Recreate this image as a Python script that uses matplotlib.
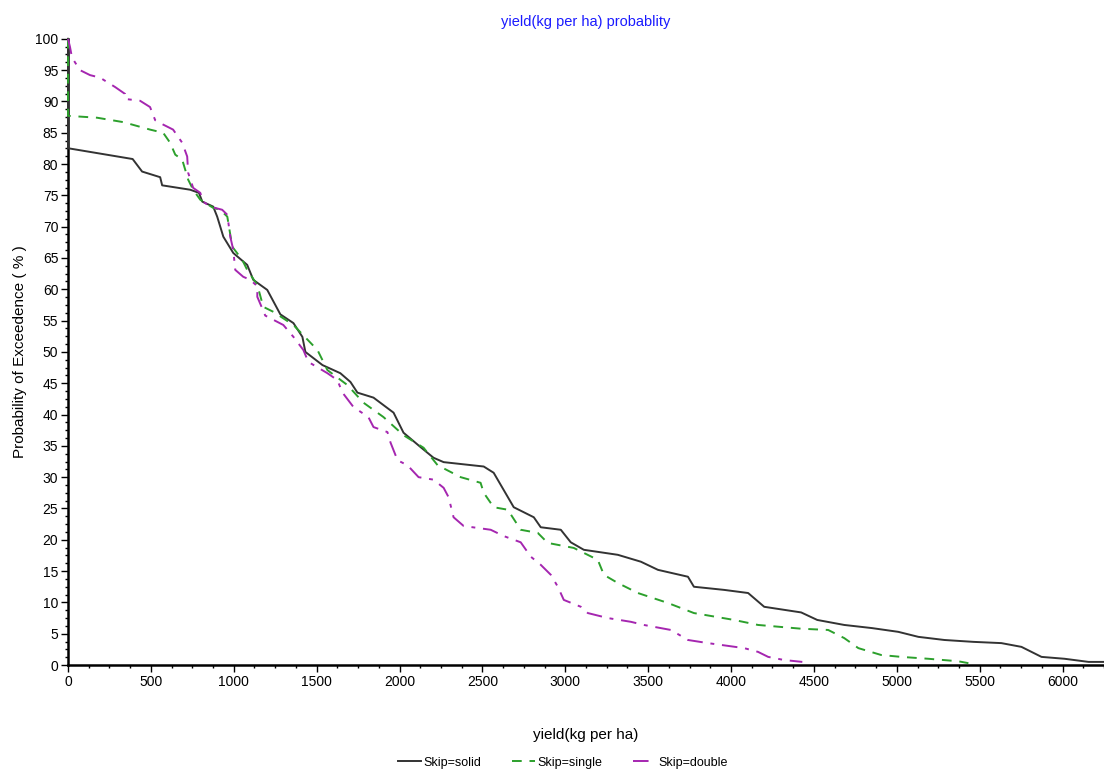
import matplotlib
matplotlib.use('Agg')
import matplotlib.pyplot as plt
from matplotlib.ticker import MultipleLocator, AutoMinorLocator

plt.rcParams['font.family'] = ['Liberation Sans', 'DejaVu Sans']

# yield (kg per ha) vs probability of exceedence (%)
solid_x = [0, 0, 6, 390, 447, 556, 568, 737, 790, 810, 876, 900, 937, 997, 1081, 1118,
           1202, 1281, 1360, 1414, 1432, 1535, 1643, 1704, 1746, 1843, 1964, 2024, 2127,
           2205, 2266, 2508, 2568, 2689, 2810, 2852, 2973, 3033, 3112, 3317, 3456, 3559,
           3740, 3776, 3958, 4103, 4200, 4423, 4520, 4683, 4850, 5009, 5130, 5287, 5462,
           5631, 5752, 5873, 6012, 6157, 6260]
solid_y = [100, 82.5, 82.5, 80.8, 78.8, 77.9, 76.6, 75.9, 75.4, 74, 73.2, 71.6, 68.4, 65.8,
           63.9, 61.5, 59.9, 56.0, 54.6, 52.4, 50, 47.9, 46.6, 45.2, 43.5, 42.7, 40.3, 37.1,
           34.8, 33.1, 32.4, 31.7, 30.7, 25.2, 23.6, 22, 21.6, 19.6, 18.4, 17.6, 16.5, 15.2,
           14.1, 12.5, 12, 11.5, 9.3, 8.4, 7.2, 6.4, 5.9, 5.3, 4.5, 4, 3.7, 3.5, 2.9, 1.3,
           1.0, 0.5, 0.5]

single_x = [0, 0, 175, 332, 387, 495, 574, 616, 647, 689, 725, 755, 798, 876, 918, 961, 991,
            1051, 1081, 1142, 1178, 1239, 1360, 1505, 1565, 1686, 1782, 1903, 2024, 2145,
            2230, 2369, 2489, 2508, 2568, 2653, 2731, 2834, 2894, 3051, 3196, 3233, 3317,
            3438, 3620, 3776, 4018, 4163, 4423, 4586, 4683, 4768, 4906, 5027, 5190, 5371,
            5432]
single_y = [100, 87.7, 87.4, 86.7, 86.3, 85.5, 85, 83.4, 81.5, 80.7, 77.5, 75.9, 74.3, 73,
            72.7, 71.6, 66.8, 64.7, 63.1, 60.7, 57.2, 56.4, 54.3, 50.3, 47.1, 44.7, 41.9,
            39.6, 36.7, 34.7, 31.9, 30, 29.1, 27.5, 25.2, 24.8, 21.6, 21.1, 19.5, 18.7, 16.8,
            14.4, 13.1, 11.5, 9.9, 8.3, 7.2, 6.4, 5.8, 5.6, 4.3, 2.7, 1.6, 1.3, 1.0, 0.6, 0.3]

double_x = [0, 12, 24, 72, 133, 193, 284, 344, 344, 435, 495, 526, 574, 634, 689, 719, 725,
            755, 798, 816, 858, 930, 961, 979, 997, 1009, 1057, 1100, 1142, 1142, 1190, 1299,
            1360, 1420, 1450, 1565, 1625, 1656, 1722, 1812, 1843, 1927, 1946, 1988, 2048,
            2115, 2205, 2266, 2296, 2326, 2387, 2550, 2628, 2731, 2792, 2852, 2913, 2955,
            2991, 3094, 3136, 3257, 3396, 3474, 3637, 3740, 3861, 4079, 4163, 4224, 4320,
            4430]
double_y = [100, 98.7, 97, 95, 94.2, 93.8, 92.3, 91.2, 90.4, 90.1, 89.1, 87, 86.3, 85.5,
            83.4, 81.2, 78.6, 76.2, 75.4, 74, 73.2, 72.7, 71.9, 68.4, 66.3, 63.1, 62, 61.5,
            60.5, 58.8, 55.8, 54.3, 52.4, 50.3, 48.4, 46.6, 45.5, 43.5, 41.2, 39.6, 38, 37.2,
            35.5, 32.7, 31.9, 30, 29.6, 28.3, 26.8, 23.6, 22.2, 21.6, 20.6, 19.6, 17.3, 16,
            14.4, 12.5, 10.4, 9.3, 8.3, 7.5, 6.9, 6.4, 5.6, 4, 3.5, 2.7, 2.1, 1.3, 0.8, 0.5]

fig = plt.figure(figsize=(11.04, 7.76), dpi=100)
ax = fig.add_axes([0.0616, 0.143, 0.9384, 0.807])

ax.plot(solid_x, solid_y, color='#333333', lw=1.4, label='Skip=solid', zorder=3, clip_on=False)
ax.plot(single_x, single_y, color='#2ca02c', lw=1.4, dashes=(5, 4), label='Skip=single',
        zorder=3, clip_on=False)
ax.plot(double_x, double_y, color='#a526b0', lw=1.4, dashes=(8, 4, 2, 4), label='Skip=double',
        zorder=3, clip_on=False)

ax.set_xlim(0, 6250)
ax.set_ylim(0, 100)
ax.xaxis.set_major_locator(MultipleLocator(500))
ax.xaxis.set_minor_locator(AutoMinorLocator(4))
ax.yaxis.set_major_locator(MultipleLocator(5))
ax.yaxis.set_minor_locator(AutoMinorLocator(4))
ax.tick_params(which='major', direction='out', length=5, width=1, labelsize=10, pad=2)
ax.tick_params(which='minor', direction='out', length=2.5, width=1)

for s in ['top', 'right']:
    ax.spines[s].set_visible(False)
for s in ['left', 'bottom']:
    ax.spines[s].set_linewidth(1.8)

ax.set_title('yield(kg per ha) probablity', color='#1a1aff', fontsize=10.5, pad=9)
ax.set_ylabel('Probability of Exceedence ( % )', fontsize=11, labelpad=6)
ax.set_xlabel('yield(kg per ha)', fontsize=11, labelpad=28)

fig.legend(loc='lower center', bbox_to_anchor=(0.51, -0.005), ncol=3, frameon=False,
           fontsize=9, handlelength=1.8, columnspacing=2.5, handletextpad=0.2)

fig.savefig('out.png', dpi=100)
